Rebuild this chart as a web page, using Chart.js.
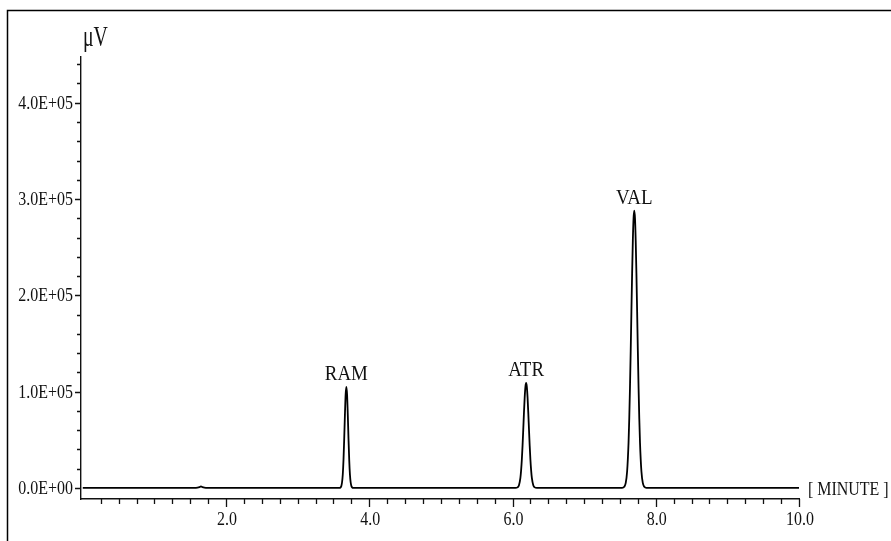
<!DOCTYPE html>
<html>
<head>
<meta charset="utf-8">
<title>Chromatogram</title>
<script src="https://cdn.jsdelivr.net/npm/chart.js@4.4.0/dist/chart.umd.min.js"></script>
<style>
    body { margin: 0; background: #fff; }
    #wrap { width: 891px; height: 541px; }
</style>
</head>
<body>
<div id="wrap"><canvas id="chromChart" width="891" height="541"></canvas></div>
<script>
    // retention time (min) and detector signal (uV)
    const times = [
        0.00, 0.50, 1.00, 1.50, 1.58, 1.63, 1.65, 1.67, 1.72, 2.50, 3.00, 3.55,
        3.58, 3.60, 3.61, 3.62, 3.63, 3.64, 3.65, 3.66, 3.67, 3.68, 3.69, 3.70,
        3.71, 3.72, 3.73, 3.74, 3.75, 3.76, 3.78,
        4.50, 5.50, 6.00,
        6.04, 6.07, 6.09, 6.11, 6.12, 6.13, 6.14, 6.15, 6.16, 6.17, 6.18, 6.19,
        6.20, 6.21, 6.22, 6.23, 6.24, 6.25, 6.26, 6.27, 6.29, 6.31, 6.34,
        7.00, 7.45,
        7.53, 7.56, 7.58, 7.60, 7.62, 7.63, 7.64, 7.65, 7.66, 7.67, 7.68, 7.69,
        7.70, 7.71, 7.72, 7.73, 7.74, 7.75, 7.76, 7.77, 7.78, 7.80, 7.82, 7.84, 7.87,
        8.50, 9.00, 10.00
    ];
    const signal = [
        0, 0, 0, 0, 0, 800, 1500, 800, 0, 0, 0, 0,
        0, 600, 2100, 5900, 14000, 29000, 51000, 76000, 97000, 105000, 97000, 76000,
        51000, 29000, 14000, 5900, 2100, 600, 0,
        0, 0, 0,
        0, 570, 2800, 10500, 18200, 29200, 43700, 60700, 78500, 94000, 105000, 109000,
        105000, 94000, 78500, 60700, 43700, 29200, 18200, 10500, 2800, 570, 0,
        0, 0,
        0, 1100, 4900, 17000, 47000, 72000, 104000, 142000, 183000, 223000, 257000, 280000,
        288000, 280000, 257000, 223000, 183000, 142000, 104000, 72000, 47000, 17000, 4900, 1100, 0,
        0, 0, 0
    ];

    const peakNames = ['RAM', 'ATR', 'VAL'];
    const peakTimes = [3.68, 6.19, 7.70];
    const peakHeights = [105000, 109000, 288000];

    const yLabelValues = [0, 100000, 200000, 300000, 400000];
    const yTickLabels = ['0.0E+00', '1.0E+05', '2.0E+05', '3.0E+05', '4.0E+05'];
    const xLabelValues = [2, 4, 6, 8, 10];
    const xTickLabels = ['2.0', '4.0', '6.0', '8.0', '10.0'];

    const yMinorStep = 20000;
    const xMinorStep = 0.25;
    const ink = '#111';

    // text in the original is a narrow serif, so squeeze it a bit
    function squeezeText(ctx, text, x, y, size, sx, align, base) {
        ctx.save();
        ctx.font = size + 'px "Liberation Serif", "Times New Roman", serif';
        ctx.fillStyle = ink;
        ctx.textAlign = align;
        ctx.textBaseline = base;
        ctx.translate(x, y);
        ctx.scale(sx, 1);
        ctx.fillText(text, 0, 0);
        ctx.restore();
    }

    const paperPlugin = {
        id: 'paper',
        beforeDraw(chart) {
            const ctx = chart.ctx;
            ctx.save();
            ctx.fillStyle = '#ffffff';
            ctx.fillRect(0, 0, chart.width, chart.height);
            ctx.strokeStyle = '#000';
            ctx.lineWidth = 1.5;
            ctx.strokeRect(7.5, 10.5, chart.width + 20, chart.height + 20);
            ctx.restore();
        },
        afterDraw(chart) {
            const ctx = chart.ctx;
            const xs = chart.scales.x;
            const ys = chart.scales.y;
            const area = chart.chartArea;

            ctx.save();
            ctx.strokeStyle = ink;
            ctx.lineWidth = 1.3;
            ctx.beginPath();
            // y ticks, long ones where there is a label
            for (let v = 0; v <= ys.max; v += yMinorStep) {
                const py = Math.round(ys.getPixelForValue(v)) + 0.5;
                const len = (v % 100000 === 0) ? 6 : 4;
                ctx.moveTo(area.left, py);
                ctx.lineTo(area.left - len, py);
            }
            // x ticks
            for (let i = 1; i * xMinorStep <= xs.max + 1e-9; i++) {
                const t = i * xMinorStep;
                const px = Math.round(xs.getPixelForValue(t)) + 0.5;
                const len = (i % 8 === 0) ? 8 : 5;
                ctx.moveTo(px, area.bottom);
                ctx.lineTo(px, area.bottom + len);
            }
            ctx.stroke();
            ctx.restore();

            yLabelValues.forEach((v, i) => {
                squeezeText(ctx, yTickLabels[i], area.left - 8, ys.getPixelForValue(v) + 1, 19, 0.84, 'right', 'middle');
            });
            xLabelValues.forEach((v, i) => {
                squeezeText(ctx, xTickLabels[i], xs.getPixelForValue(v) + 1, area.bottom + 21, 19, 0.84, 'center', 'middle');
            });

            squeezeText(ctx, '[ MINUTE ]', area.right + 9, ys.getPixelForValue(0) + 2, 19, 0.84, 'left', 'middle');
            squeezeText(ctx, 'μV', area.left + 2, 46, 30, 0.66, 'left', 'alphabetic');

            peakNames.forEach((name, i) => {
                const px = xs.getPixelForValue(peakTimes[i]);
                const py = ys.getPixelForValue(peakHeights[i]);
                squeezeText(ctx, name, px, py - 7, 22, 0.86, 'center', 'alphabetic');
            });
        }
    };

    const ctx = document.getElementById('chromChart').getContext('2d');
    const chromChart = new Chart(ctx, {
        type: 'line',
        data: {
            datasets: [{
                label: 'signal',
                data: times.map((t, i) => ({ x: t, y: signal[i] })),
                borderColor: '#000',
                borderWidth: 1.8,
                pointRadius: 0,
                fill: false,
                cubicInterpolationMode: 'monotone'
            }]
        },
        options: {
            responsive: false,
            animation: false,
            devicePixelRatio: 1,
            layout: {
                padding: { left: 81, top: 57, right: 92, bottom: 42 }
            },
            plugins: {
                legend: { display: false },
                tooltip: { enabled: false },
                title: { display: false }
            },
            scales: {
                x: {
                    type: 'linear',
                    min: -0.025,
                    max: 10,
                    ticks: { display: false },
                    grid: { display: true, drawOnChartArea: false, drawTicks: false },
                    border: { display: true, color: ink, width: 1.4 }
                },
                y: {
                    type: 'linear',
                    min: -11500,
                    max: 447500,
                    ticks: { display: false },
                    grid: { display: true, drawOnChartArea: false, drawTicks: false },
                    border: { display: true, color: ink, width: 1.4 }
                }
            }
        },
        plugins: [paperPlugin]
    });
</script>
</body>
</html>
